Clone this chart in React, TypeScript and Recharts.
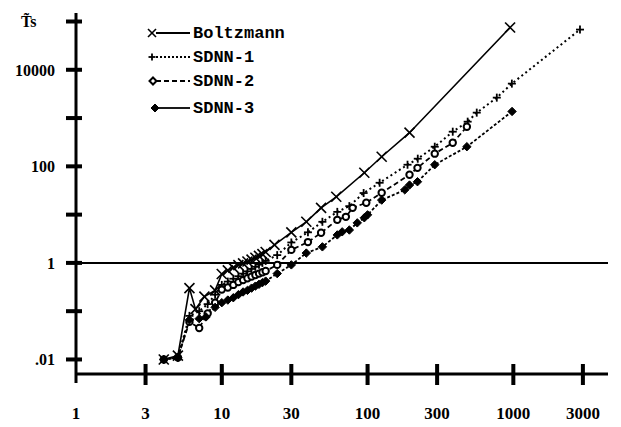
import { LineChart, Line, XAxis, YAxis, ReferenceLine, Legend } from 'recharts'

const boltzX = [4, 5, 6, 6.6, 7.6, 9, 10, 11, 12, 13, 14, 15, 16, 17, 18, 19, 20, 23, 30, 38, 48, 61, 95, 125, 194, 950]
const boltzY = [0.01, 0.012, 0.3, 0.11, 0.2, 0.27, 0.59, 0.7, 0.8, 0.9, 0.98, 1.07, 1.17, 1.28, 1.4, 1.52, 1.68, 2.36, 4.3, 7.1, 13.8, 23.4, 73.6, 158, 498, 75000]

const sdnn1X = [4, 5, 6, 7, 8, 9, 10, 11, 12, 13, 14, 15, 16, 17, 18, 19, 20, 24, 30, 39, 49, 62, 75, 94, 121, 188, 221, 289, 384, 486, 561, 770, 977, 2865]
const sdnn1Y = [0.01, 0.011, 0.08, 0.1, 0.14, 0.22, 0.35, 0.41, 0.47, 0.53, 0.6, 0.67, 0.75, 0.83, 0.92, 1.0, 1.1, 1.45, 2.65, 4.3, 7.1, 11.4, 15, 28, 45.7, 108, 144, 255, 522, 842, 1295, 2650, 5170, 68000]

const sdnn2X = [4, 5, 6, 7, 8, 9, 10, 11, 12, 13, 14, 15, 16, 17, 18, 19, 20, 24, 30, 39, 48, 62, 71, 79, 98, 125, 194, 220, 289, 384, 480]
const sdnn2Y = [0.01, 0.011, 0.06, 0.045, 0.09, 0.15, 0.28, 0.31, 0.35, 0.4, 0.44, 0.48, 0.52, 0.56, 0.6, 0.64, 0.68, 0.91, 1.86, 2.7, 4.2, 7.8, 9, 13.8, 17.6, 28.4, 67, 93, 183, 307, 660]

const sdnn3X = [4, 5, 6, 7, 7.8, 9, 10, 11, 12, 13, 14, 15, 16, 17, 18, 19, 20, 24, 30, 38, 49, 62, 67, 75, 85, 95, 100, 125, 180, 194, 220, 289, 480, 980]
const sdnn3Y = [0.01, 0.011, 0.066, 0.07, 0.076, 0.12, 0.15, 0.17, 0.19, 0.22, 0.25, 0.27, 0.3, 0.33, 0.36, 0.39, 0.42, 0.6, 0.91, 1.6, 2.15, 3.8, 4.4, 4.8, 6.75, 8.6, 9.9, 20, 32.6, 41, 48, 108, 255, 1370]

const xTicks = [1, 3, 10, 30, 100, 300, 1000, 3000]
const xTickLabels = ['1', '3', '10', '30', '100', '300', '1000', '3000']
const yTicks = [0.01, 0.1, 1, 10, 100, 1000, 10000, 100000]
const yTickLabels: Record<number, string> = { 0.01: '.01', 1: '1', 100: '100', 10000: '10000' }

const seriesNames = ['Boltzmann', 'SDNN-1', 'SDNN-2', 'SDNN-3']

const X_MIN = 1
const X_MAX = 4460
const Y_MIN = 0.005
const Y_MAX = 150000

const toPoints = (xs: number[], ys: number[]) => xs.map((x, i) => ({ x, y: ys[i] }))

const INK = '#000'
const serif = '"Liberation Serif", "DejaVu Serif", serif'
const mono = '"Liberation Mono", "DejaVu Sans Mono", monospace'

function Cross({ cx, cy, s = 5 }: any) {
  return (
    <g stroke={INK} strokeWidth={1.6}>
      <line x1={cx - s} y1={cy - s} x2={cx + s} y2={cy + s} />
      <line x1={cx - s} y1={cy + s} x2={cx + s} y2={cy - s} />
    </g>
  )
}

function Plus({ cx, cy, s = 4 }: any) {
  return (
    <g stroke={INK} strokeWidth={1.8}>
      <line x1={cx - s} y1={cy} x2={cx + s} y2={cy} />
      <line x1={cx} y1={cy - s} x2={cx} y2={cy + s} />
    </g>
  )
}

function OpenDot({ cx, cy }: any) {
  return <circle cx={cx} cy={cy} r={3.2} fill="#fff" stroke={INK} strokeWidth={2} />
}

function Diamond({ cx, cy, s = 4.2, open = false }: any) {
  return (
    <path
      d={`M${cx},${cy - s}L${cx + s},${cy}L${cx},${cy + s}L${cx - s},${cy}Z`}
      fill={open ? '#fff' : INK}
      stroke={INK}
      strokeWidth={open ? 2 : 1}
    />
  )
}

const dot = (Shape: any) => (p: any) => {
  if (p.cx == null || p.cy == null) return <g key={p.key ?? p.index} />
  return <Shape key={p.key ?? p.index} cx={p.cx} cy={p.cy} />
}

// tick marks cross the axis, so each custom tick draws its own mark
function XTick({ x, y, payload }: any) {
  const i = xTicks.indexOf(payload.value)
  return (
    <g>
      {payload.value > X_MIN && <rect x={x - 2} y={y - 10} width={4} height={21} fill={INK} />}
      <text x={x} y={y + 45} textAnchor="middle" fontFamily={serif} fontWeight="bold" fontSize={17} fill={INK}>
        {xTickLabels[i]}
      </text>
    </g>
  )
}

function YTick({ x, y, payload }: any) {
  const label = yTickLabels[payload.value]
  return (
    <g>
      <rect x={x - 10} y={y - 2} width={16} height={4} fill={INK} />
      {label && (
        <text x={x - 21} y={y + 6} textAnchor="end" fontFamily={serif} fontWeight="bold" fontSize={16} fill={INK}>
          {label}
        </text>
      )}
    </g>
  )
}

function LegendBox() {
  const rows = [
    { name: seriesNames[0], mark: <Cross cx={12} cy={15} s={4} />, dash: undefined },
    { name: seriesNames[1], mark: <Plus cx={12} cy={39} s={3.5} />, dash: '2 2' },
    { name: seriesNames[2], mark: <Diamond cx={13} cy={63} s={3.5} open />, dash: '5 3' },
    { name: seriesNames[3], mark: <Diamond cx={15} cy={90} s={4} />, dash: undefined },
  ]
  const ys = [15, 39, 63, 90]
  return (
    <svg width={170} height={100}>
      {rows.map((r, i) => (
        <g key={r.name}>
          <line x1={i === 3 ? 18 : 16} y1={ys[i]} x2={50} y2={ys[i]} stroke={INK} strokeWidth={1.8} strokeDasharray={r.dash} />
          {r.mark}
          <text x={53} y={ys[i] + 5} fontFamily={mono} fontWeight="bold" fontSize={17} fill={INK}>
            {r.name}
          </text>
        </g>
      ))}
    </svg>
  )
}

export default function App() {
  return (
    <div style={{ position: 'absolute', left: 0, top: 0, background: '#fff' }}>
      <LineChart width={621} height={427} margin={{ top: 13, right: 13, bottom: 8, left: 16 }}>
        <XAxis
          type="number"
          dataKey="x"
          scale="log"
          domain={[X_MIN, X_MAX]}
          allowDataOverflow
          ticks={xTicks}
          interval={0}
          tick={<XTick />}
          tickLine={false}
          tickSize={0}
          tickMargin={0}
          height={45}
          axisLine={false}
        />
        <YAxis
          type="number"
          dataKey="y"
          scale="log"
          domain={[Y_MIN, Y_MAX]}
          allowDataOverflow
          ticks={yTicks}
          interval={0}
          tick={<YTick />}
          tickLine={false}
          tickSize={0}
          tickMargin={0}
          width={60}
          axisLine={false}
          label={{
            content: (props: any) => (
              <text x={(props.viewBox?.x ?? 16) + 5} y={(props.viewBox?.y ?? 13) + 14} fontFamily={serif} fontWeight="bold" fontSize={16} fill={INK}>
                {'T\u0303s'}
              </text>
            ),
          }}
        />
        <ReferenceLine segment={[{ x: X_MIN, y: Y_MIN * 0.65 }, { x: X_MIN, y: Y_MAX }]} stroke={INK} strokeWidth={3} ifOverflow="visible" />
        <ReferenceLine segment={[{ x: X_MIN, y: Y_MIN }, { x: X_MAX, y: Y_MIN }]} stroke={INK} strokeWidth={3} ifOverflow="visible" />
        <ReferenceLine segment={[{ x: X_MIN, y: 1 }, { x: X_MAX, y: 1 }]} stroke={INK} strokeWidth={2} ifOverflow="visible" />
        <ReferenceLine segment={[{ x: 10, y: Y_MIN * 0.6 }, { x: 10, y: Y_MIN * 1.5 }]} stroke={INK} strokeWidth={3} ifOverflow="visible" />
        <ReferenceLine segment={[{ x: 100, y: Y_MIN * 0.6 }, { x: 100, y: Y_MIN * 1.5 }]} stroke={INK} strokeWidth={3} ifOverflow="visible" />
        <Legend
          layout="vertical"
          align="center"
          verticalAlign="middle"
          content={() => <LegendBox />}
          wrapperStyle={{ position: 'absolute', left: 140, top: 18, width: 170, height: 100 }}
        />
        <Line
          name={seriesNames[0]}
          data={toPoints(boltzX, boltzY)}
          dataKey="y"
          stroke={INK}
          strokeWidth={1.6}
          dot={dot(Cross)}
          activeDot={false}
          isAnimationActive={false}
        />
        <Line
          name={seriesNames[1]}
          data={toPoints(sdnn1X, sdnn1Y)}
          dataKey="y"
          stroke={INK}
          strokeWidth={2}
          strokeDasharray="2 3"
          dot={dot(Plus)}
          activeDot={false}
          isAnimationActive={false}
        />
        <Line
          name={seriesNames[2]}
          data={toPoints(sdnn2X, sdnn2Y)}
          dataKey="y"
          stroke={INK}
          strokeWidth={1.8}
          strokeDasharray="5 3"
          dot={dot(OpenDot)}
          activeDot={false}
          isAnimationActive={false}
        />
        <Line
          name={seriesNames[3]}
          data={toPoints(sdnn3X, sdnn3Y)}
          dataKey="y"
          stroke={INK}
          strokeWidth={1.8}
          strokeDasharray="3 2"
          dot={dot(Diamond)}
          activeDot={false}
          isAnimationActive={false}
        />
      </LineChart>
    </div>
  )
}
